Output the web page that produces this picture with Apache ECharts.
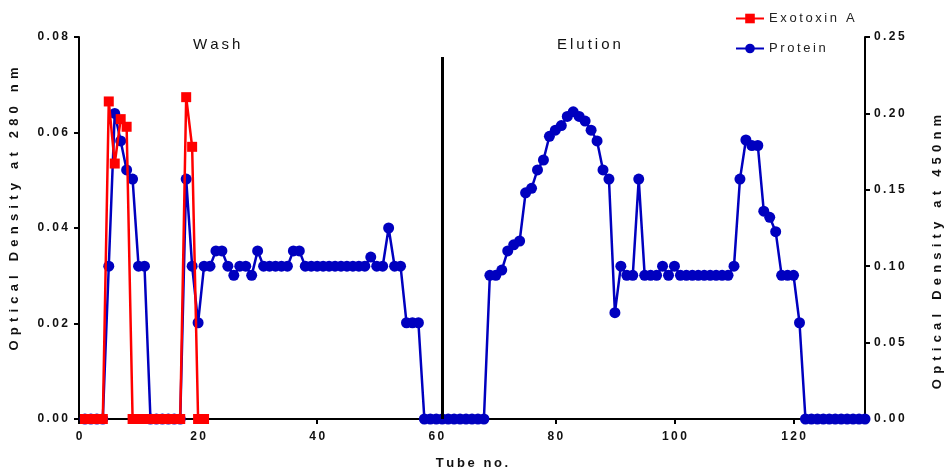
<!DOCTYPE html>
<html>
<head>
<meta charset="utf-8">
<script src="https://cdn.jsdelivr.net/npm/echarts@6/dist/echarts.min.js"></script>
<style>
  html, body { margin: 0; padding: 0; background: #fff; }
  #main { width: 952px; height: 475px; }
</style>
</head>
<body>
<div id="main"></div>
<script>
// tube numbers 1..132
var tubes = [];
for (var t = 1; t <= 132; t++) tubes.push(t);

// Exotoxin A, OD 280 nm (left axis), tubes 1..21
var exotoxinA = [0, 0, 0, 0, 0.0665, 0.0535, 0.0628, 0.0612, 0, 0,
  0, 0, 0, 0, 0, 0, 0, 0.0674, 0.0570, 0, 0];

// Protein, OD 450 nm (right axis), tubes 1..132
var protein = [
  0, 0, 0, 0, 0.100, 0.200, 0.182, 0.163, 0.157, 0.100,
  0.100, 0, 0, 0, 0, 0, 0, 0.157, 0.100, 0.063,
  0.100, 0.100, 0.110, 0.110, 0.100, 0.094, 0.100, 0.100, 0.094, 0.110,
  0.100, 0.100, 0.100, 0.100, 0.100, 0.110, 0.110, 0.100, 0.100, 0.100,
  0.100, 0.100, 0.100, 0.100, 0.100, 0.100, 0.100, 0.100, 0.106, 0.100,
  0.100, 0.125, 0.100, 0.100, 0.063, 0.063, 0.063, 0, 0, 0,
  0, 0, 0, 0, 0, 0, 0, 0, 0.094, 0.094,
  0.0975, 0.110, 0.114, 0.1165, 0.148, 0.151, 0.163, 0.1695, 0.185, 0.189,
  0.192, 0.198, 0.201, 0.198, 0.195, 0.189, 0.182, 0.163, 0.157, 0.0696,
  0.100, 0.094, 0.094, 0.157, 0.094, 0.094, 0.094, 0.100, 0.094, 0.100,
  0.094, 0.094, 0.094, 0.094, 0.094, 0.094, 0.094, 0.094, 0.094, 0.100,
  0.157, 0.1826, 0.179, 0.179, 0.136, 0.132, 0.1226, 0.094, 0.094, 0.094,
  0.063, 0, 0, 0, 0, 0, 0, 0, 0, 0,
  0, 0
];

var xTicks = [0, 20, 40, 60, 80, 100, 120];
var dividerTube = 61;
var dividerTop = 0.0758;
var sectionLabels = ['Wash', 'Elution'];

// spread letters out a bit, the original uses wide tracking
function sp(s, n) {
  return s.split('').join(n === 2 ? '\u2009\u2009' : '\u2009');
}

function pairs(xs, ys) {
  var out = [];
  for (var i = 0; i < ys.length; i++) out.push([xs[i], ys[i]]);
  return out;
}

var FONT = 'Liberation Sans, Arial, sans-serif';
var chart = echarts.init(document.getElementById('main'), null, { renderer: 'canvas' });

var axisLine = { show: true, lineStyle: { color: '#000', width: 2 } };
var axisTick = { show: true, length: 5, lineStyle: { color: '#000', width: 2 } };
var tickLabel = { color: '#111', fontFamily: FONT, fontWeight: 'bold', fontSize: 12 };
var nameStyle = { fontFamily: FONT, fontWeight: 'bold', fontSize: 13, color: '#111' };

chart.setOption({
  animation: false,
  backgroundColor: '#fff',
  textStyle: { fontFamily: FONT },
  grid: { left: 78, right: 82, top: 37, bottom: 56 },
  legend: {
    data: ['Exotoxin A', 'Protein'],
    orient: 'vertical',
    left: 730,
    top: 7,
    itemWidth: 28,
    itemHeight: 12,
    itemGap: 17,
    formatter: function (n) { return sp(n); },
    textStyle: { fontFamily: FONT, fontSize: 13, color: '#222' }
  },
  xAxis: {
    type: 'value',
    min: 0,
    max: 132,
    interval: 20,
    name: sp('Tube no.'),
    nameLocation: 'middle',
    nameGap: 38,
    nameTextStyle: nameStyle,
    axisLine: axisLine,
    axisTick: Object.assign({ customValues: xTicks }, axisTick),
    axisLabel: Object.assign({ customValues: xTicks, margin: 12, formatter: function (v) { return sp(String(v)); } }, tickLabel),
    splitLine: { show: false }
  },
  yAxis: [{
    type: 'value',
    position: 'left',
    min: 0,
    max: 0.08,
    interval: 0.02,
    name: sp('Optical Density at 280 nm', 2),
    nameLocation: 'middle',
    nameGap: 58,
    nameTextStyle: Object.assign({ padding: [0, 0, 0, 38] }, nameStyle),
    axisLine: axisLine,
    axisTick: axisTick,
    axisLabel: Object.assign({ margin: 11, formatter: function (v) { return sp(v.toFixed(2)); } }, tickLabel),
    splitLine: { show: false }
  }, {
    type: 'value',
    position: 'right',
    min: 0,
    max: 0.25,
    interval: 0.05,
    name: sp('Optical Density at 450nm', 2),
    nameLocation: 'middle',
    nameGap: 66,
    nameTextStyle: Object.assign({ padding: [0, 48, 0, 0] }, nameStyle),
    axisLine: axisLine,
    axisTick: axisTick,
    axisLabel: Object.assign({ margin: 9, formatter: function (v) { return sp(v.toFixed(2)); } }, tickLabel),
    splitLine: { show: false }
  }],
  graphic: [{
    type: 'text',
    left: 193,
    top: 37,
    style: { text: sp(sectionLabels[0]), font: '15px ' + FONT, fill: '#111' }
  }, {
    type: 'text',
    left: 557,
    top: 37,
    style: { text: sp(sectionLabels[1]), font: '15px ' + FONT, fill: '#111' }
  }],
  series: [{
    name: 'Protein',
    type: 'line',
    yAxisIndex: 1,
    data: pairs(tubes, protein),
    symbol: 'circle',
    symbolSize: 11,
    color: '#0000bf',
    lineStyle: { width: 2.5, color: '#0000bf' },
    itemStyle: { color: '#0000bf' },
    z: 2
  }, {
    name: 'Exotoxin A',
    type: 'line',
    yAxisIndex: 0,
    data: pairs(tubes, exotoxinA),
    symbol: 'rect',
    symbolSize: 10,
    color: '#ff0000',
    lineStyle: { width: 2.5, color: '#ff0000' },
    itemStyle: { color: '#ff0000' },
    z: 3,
    markLine: {
      silent: true,
      symbol: 'none',
      label: { show: false },
      lineStyle: { color: '#000', width: 3, type: 'solid' },
      data: [[{ coord: [dividerTube, 0] }, { coord: [dividerTube, dividerTop] }]]
    }
  }]
});
</script>
</body>
</html>
